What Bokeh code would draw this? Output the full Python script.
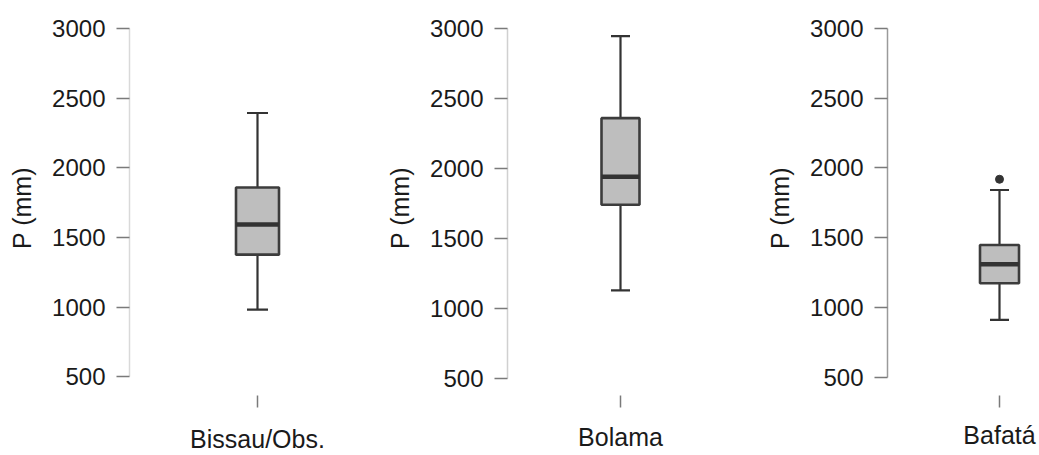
from bokeh.plotting import figure
from bokeh.layouts import row
from bokeh.models import Range1d, FixedTicker, ColumnDataSource
from bokeh.embed import file_html
from bokeh.resources import INLINE

# ---- data ----
stations = ["Bissau/Obs.", "Bolama", "Bafatá"]
lower_whisker = [982, 1130, 910]
q1 = [1376, 1741, 1173]
median = [1592, 1941, 1309]
q3 = [1858, 2359, 1447]
upper_whisker = [2393, 2944, 1841]
outliers = [[], [], [1918]]
y_ticks = [500, 1000, 1500, 2000, 2500, 3000]
y_label = "P (mm)"

FONT = "Liberation Sans"
DARK = "#333333"

# layout per panel
panels = [
    dict(w=380, bl=129, xr=(-128, 123), yr=(365, 3057), bb=57, bw=43, cw=21, ac="#d9d9d9", so=17),
    dict(w=380, bl=127, xr=(-113, 140), yr=(379, 3056), bb=55, bw=38, cw=19, ac="#d0d0d0", so=15),
    dict(w=279, bl=127, xr=(-112, 40), yr=(368, 3056), bb=53, bw=39, cw=19, ac="#9a9a9a", so=13),
]

figs = []
for i, cfg in enumerate(panels):
    p = figure(width=cfg["w"], height=455, output_backend="svg", toolbar_location=None,
               x_range=Range1d(*cfg["xr"]), y_range=Range1d(*cfg["yr"]),
               min_border_left=cfg["bl"], min_border_right=0, min_border_top=20,
               min_border_bottom=cfg["bb"])
    p.outline_line_color = None
    p.xgrid.visible = False
    p.ygrid.visible = False
    p.background_fill_color = "white"
    p.border_fill_color = "white"

    xc = 0
    hb = cfg["bw"] / 2
    hc = cfg["cw"] / 2
    src = ColumnDataSource(dict(x=[xc], lw=[lower_whisker[i]], q1=[q1[i]], md=[median[i]],
                                q3=[q3[i]], uw=[upper_whisker[i]]))
    # whiskers
    p.segment(x0="x", y0="q3", x1="x", y1="uw", source=src, line_color=DARK, line_width=2.2)
    p.segment(x0="x", y0="lw", x1="x", y1="q1", source=src, line_color=DARK, line_width=2.2)
    p.segment(x0=xc - hc, y0="uw", x1=xc + hc, y1="uw", source=src, line_color=DARK, line_width=2.2)
    p.segment(x0=xc - hc, y0="lw", x1=xc + hc, y1="lw", source=src, line_color=DARK, line_width=2.2)
    # box
    p.quad(left=xc - hb, right=xc + hb, bottom="q1", top="q3", source=src,
           fill_color="#bebebe", line_color="#3c3c3c", line_width=2.6)
    # median
    p.segment(x0=xc - hb, y0="md", x1=xc + hb, y1="md", source=src, line_color=DARK, line_width=4.5)
    # outliers
    if outliers[i]:
        p.scatter(x=[xc] * len(outliers[i]), y=outliers[i], size=8, color=DARK)

    # y axis
    ya = p.yaxis[0]
    ya.ticker = FixedTicker(ticks=y_ticks)
    ya.bounds = (y_ticks[0], y_ticks[-1])
    ya.minor_tick_line_color = None
    ya.major_tick_in = 0
    ya.major_tick_out = 13
    ya.major_tick_line_color = "#7a7a7a"
    ya.major_tick_line_width = 1.5
    ya.axis_line_color = cfg["ac"]
    ya.axis_line_width = 1.5
    ya.major_label_standoff = 11
    ya.major_label_text_font = FONT
    ya.major_label_text_font_size = "24px"
    ya.major_label_text_color = "#1a1a1a"
    ya.axis_label = y_label
    ya.axis_label_text_font = FONT
    ya.axis_label_text_font_size = "25px"
    ya.axis_label_text_font_style = "normal"
    ya.axis_label_text_color = "#1a1a1a"
    ya.axis_label_standoff = 13

    # x axis
    xa = p.xaxis[0]
    xa.ticker = FixedTicker(ticks=[xc])
    xa.major_label_overrides = {xc: stations[i]}
    xa.axis_line_color = None
    xa.minor_tick_line_color = None
    xa.major_tick_in = 0
    xa.major_tick_out = 12
    xa.major_tick_line_color = "#7a7a7a"
    xa.major_tick_line_width = 1.5
    xa.major_label_standoff = cfg["so"]
    xa.major_label_text_font = FONT
    xa.major_label_text_font_size = "25px"
    xa.major_label_text_color = "#1a1a1a"

    figs.append(p)

layout = row(*figs)
open("out.html", "w").write(file_html(layout, INLINE))
